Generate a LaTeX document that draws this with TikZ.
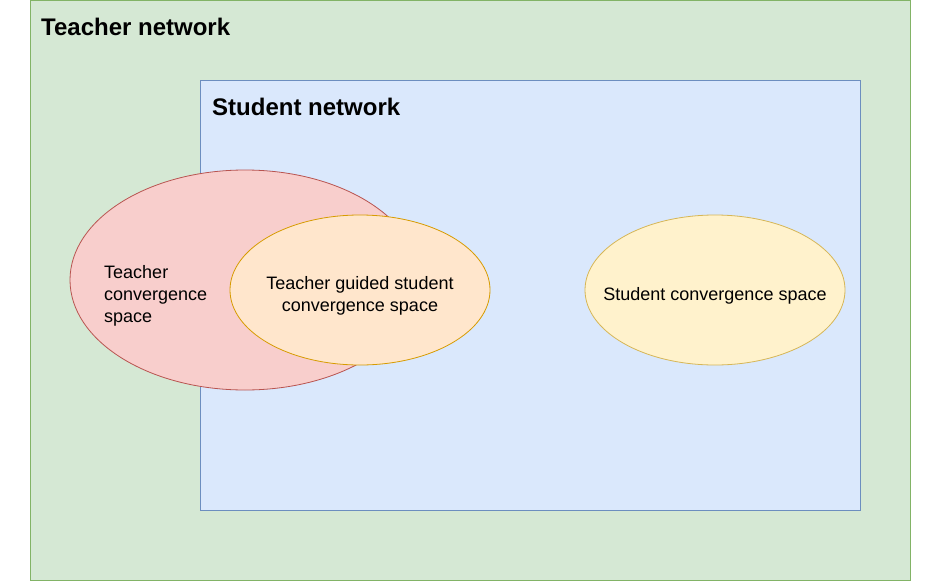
\documentclass[tikz,border=0pt]{standalone}
\usepackage{fontspec}
\setmainfont{Liberation Sans}
\definecolor{gfill}{HTML}{D5E8D4}
\definecolor{gline}{HTML}{82B366}
\definecolor{bfill}{HTML}{DAE8FC}
\definecolor{bline}{HTML}{6C8EBF}
\definecolor{rfill}{HTML}{F8CECC}
\definecolor{rline}{HTML}{B85450}
\definecolor{ofill}{HTML}{FFE6CC}
\definecolor{oline}{HTML}{D79B00}
\definecolor{yfill}{HTML}{FFF2CC}
\definecolor{yline}{HTML}{D6B656}
\begin{document}
\begin{tikzpicture}[x=1pt,y=-1pt,
  title/.style={anchor=base west,inner sep=0pt,font=\fontsize{24}{28}\selectfont\bfseries},
  lbl/.style={inner sep=0pt,font=\fontsize{18}{22}\selectfont,align=center},
  ell/.style={line width=0.8pt}]
\useasboundingbox (0,0) rectangle (942,581);
\draw[fill=gfill,draw=gline,line width=0.8pt] (30.5,0.5) rectangle (910.5,580.5);
\node[title] (tn) at (41,35.5) {Teacher network};
\draw[fill=bfill,draw=bline,line width=0.8pt] (200.5,80.5) rectangle (860.5,510.5);
\node[title] (sn) at (212,115.5) {Student network};
\draw[ell,fill=rfill,draw=rline] (245,280) ellipse [x radius=175,y radius=110];
\node[lbl,align=left,anchor=west] (tc) at (104,296) {Teacher\\convergence\\space};
\draw[ell,fill=ofill,draw=oline] (360,290) ellipse [x radius=130,y radius=75];
\node[lbl] (tg) at (360,296) {Teacher guided student\\convergence space};
\draw[ell,fill=yfill,draw=yline] (715,290) ellipse [x radius=130,y radius=75];
\node[lbl] (sc) at (715,296) {Student convergence space};
\end{tikzpicture}
\end{document}
